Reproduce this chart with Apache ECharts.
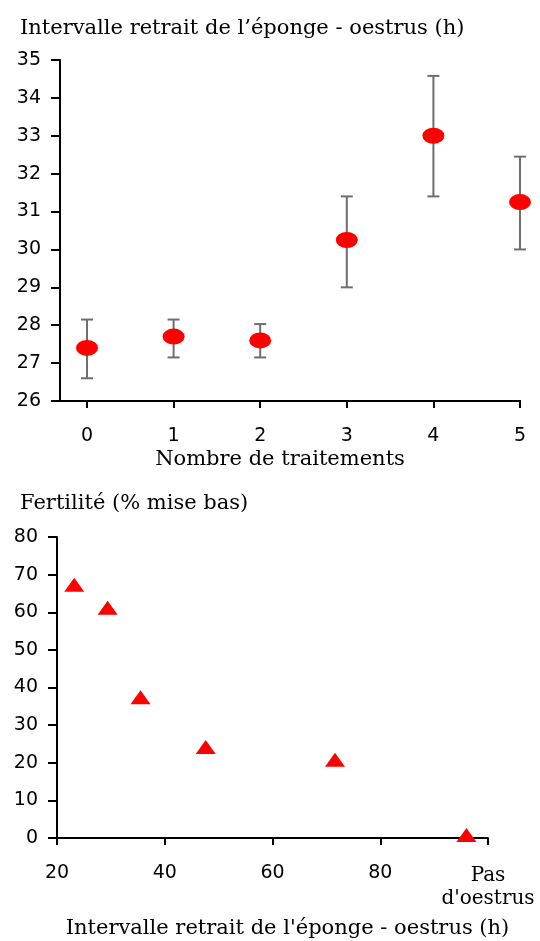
<!DOCTYPE html>
<html>
<head>
<meta charset="utf-8">
<script src="https://cdn.jsdelivr.net/npm/echarts@6/dist/echarts.min.js"></script>
<style>
html,body{margin:0;padding:0;background:#fff;}
#chart{width:540px;height:941px;}
</style>
</head>
<body>
<div id="chart"></div>
<script>
// ---- Top chart: interval vs number of treatments ----
const treatments = [0, 1, 2, 3, 4, 5];
const intervalMean = [27.4, 27.7, 27.6, 30.25, 33.0, 31.25];
const intervalLow  = [26.6, 27.15, 27.15, 29.0, 31.4, 30.0];
const intervalHigh = [28.15, 28.15, 28.03, 31.4, 34.58, 32.45];

// ---- Bottom chart: fertility vs interval ----
const intervalHours = [23.2, 29.4, 35.5, 47.6, 71.6, 96.0];
const fertility = [67.3, 61.2, 37.4, 24.2, 20.8, 0.8];
const bottomTickLabels = ['20', '40', '60', '80', 'Pas\nd\'oestrus'];

const titleTop = 'Intervalle retrait de l\u2019éponge - oestrus (h)';
const xNameTop = 'Nombre de traitements';
const titleBottom = 'Fertilité (% mise bas)';
const xNameBottom = 'Intervalle retrait de l\'éponge - oestrus (h)';

const SERIF = 'DejaVu Serif';
const SANS = 'DejaVu Sans';

const chart = echarts.init(document.getElementById('chart'));

function errorBarRender(params, api) {
  const x = api.value(0);
  const lo = api.coord([x, api.value(1)]);
  const hi = api.coord([x, api.value(2)]);
  const cap = 6;
  const style = {stroke: '#6e6e6e', lineWidth: 2};
  return {
    type: 'group',
    children: [
      {type: 'line', shape: {x1: lo[0], y1: lo[1], x2: hi[0], y2: hi[1]}, style: style},
      {type: 'line', shape: {x1: lo[0] - cap, y1: lo[1], x2: lo[0] + cap, y2: lo[1]}, style: style},
      {type: 'line', shape: {x1: hi[0] - cap, y1: hi[1], x2: hi[0] + cap, y2: hi[1]}, style: style}
    ]
  };
}

const axLine = () => ({show: true, onZero: false, lineStyle: {color: '#000', width: 2}});
const axTick = (len) => ({show: true, length: len, lineStyle: {color: '#000', width: 2}});
const axLabel = (m) => ({margin: m, fontFamily: SANS, fontSize: 19, color: '#000'});

const bottomXLabel = axLabel(26);
bottomXLabel.formatter = function (v) {
  const i = Math.round((v - 20) / 20);
  const t = bottomTickLabels[i];
  if (i === bottomTickLabels.length - 1) {
    return t.split('\n').map(s => '{s|' + s + '}').join('\n');
  }
  return t;
};
bottomXLabel.rich = {s: {fontFamily: SERIF, fontSize: 20, color: '#000', lineHeight: 23}};

const option = {
  animation: false,
  title: [
    {text: titleTop, left: 15, top: 13,
     textStyle: {fontFamily: SERIF, fontSize: 21, fontWeight: 'normal', color: '#000'}},
    {text: titleBottom, left: 15, top: 488,
     textStyle: {fontFamily: SERIF, fontSize: 21, fontWeight: 'normal', color: '#000'}}
  ],
  grid: [
    {left: 87, right: 20, top: 60, height: 341},
    {left: 57, right: 52, top: 537, height: 301},
    {left: 60, right: 20, top: 60, height: 341}
  ],
  xAxis: [
    {
      gridIndex: 0, type: 'value', min: 0, max: 5, interval: 1,
      axisLine: axLine(),
      axisTick: axTick(7),
      axisLabel: axLabel(26),
      splitLine: {show: false},
      name: xNameTop, nameLocation: 'middle', nameGap: 48,
      nameTextStyle: {fontFamily: SERIF, fontSize: 21, color: '#000', padding: [0, 47, 0, 0]}
    },
    {
      gridIndex: 1, type: 'value', min: 20, max: 100, interval: 20,
      axisLine: axLine(),
      axisTick: axTick(7),
      axisLabel: bottomXLabel,
      splitLine: {show: false},
      name: xNameBottom, nameLocation: 'middle', nameGap: 80,
      nameTextStyle: {fontFamily: SERIF, fontSize: 21, color: '#000', padding: [0, 0, 0, 30]}
    },
    {
      gridIndex: 2, type: 'value', min: 0, max: 1,
      axisLine: axLine(),
      axisTick: {show: false}, axisLabel: {show: false}, splitLine: {show: false}
    }
  ],
  yAxis: [
    {
      gridIndex: 0, type: 'value', min: 26, max: 35, interval: 1, offset: 27,
      axisLine: axLine(), axisTick: axTick(9), axisLabel: axLabel(19),
      splitLine: {show: false}
    },
    {
      gridIndex: 1, type: 'value', min: 0, max: 80, interval: 10,
      axisLine: axLine(), axisTick: axTick(9), axisLabel: axLabel(19),
      splitLine: {show: false}
    },
    {
      gridIndex: 2, type: 'value', show: false, min: 0, max: 1
    }
  ],
  series: [
    {
      type: 'custom', xAxisIndex: 0, yAxisIndex: 0,
      renderItem: errorBarRender,
      clip: false,
      data: treatments.map((t, i) => [t, intervalLow[i], intervalHigh[i]]),
      encode: {x: 0, y: [1, 2]},
      z: 3
    },
    {
      type: 'scatter', xAxisIndex: 0, yAxisIndex: 0,
      symbol: 'circle', symbolSize: [22, 16],
      clip: false,
      itemStyle: {color: '#ff0000', opacity: 1},
      data: treatments.map((t, i) => [t, intervalMean[i]]),
      z: 4
    },
    {
      type: 'scatter', xAxisIndex: 1, yAxisIndex: 1,
      symbol: 'triangle', symbolSize: [20, 14],
      clip: false,
      itemStyle: {color: '#ff0000', opacity: 1},
      data: intervalHours.map((h, i) => [h, fertility[i]]),
      z: 4
    }
  ]
};
chart.setOption(option);
</script>
</body>
</html>
